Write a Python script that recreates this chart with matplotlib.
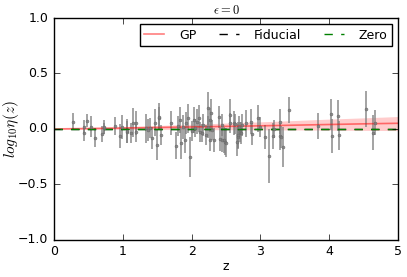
import numpy as np
import matplotlib
matplotlib.use("Agg")
import matplotlib.pyplot as plt

plt.style.use("classic")
plt.rcParams["mathtext.fontset"] = "cm"
plt.rcParams["font.family"] = ["DejaVu Sans"]

# data points (z, log10 eta, error)
z_obs = [0.28, 0.43, 0.43, 0.48, 0.53, 0.60, 0.69, 0.72, 0.73, 0.88,
         0.96, 0.98, 1.06, 1.06, 1.12, 1.14, 1.19, 1.19, 1.33, 1.37,
         1.39, 1.42, 1.47, 1.49, 1.52, 1.53, 1.55, 1.70, 1.77, 1.80,
         1.83, 1.84, 1.87, 1.90, 1.91, 1.94, 1.97, 2.00, 2.03, 2.05,
         2.07, 2.10, 2.12, 2.15, 2.17, 2.21, 2.23, 2.24, 2.26, 2.27,
         2.28, 2.30, 2.33, 2.40, 2.41, 2.44, 2.44, 2.47, 2.49, 2.50,
         2.55, 2.56, 2.61, 2.63, 2.66, 2.67, 2.68, 2.69, 2.70, 2.71,
         2.73, 2.79, 2.86, 2.88, 2.96, 2.99, 3.07, 3.13, 3.18, 3.19,
         3.28, 3.29, 3.30, 3.33, 3.41, 3.84, 4.02, 4.04, 4.13, 4.14,
         4.53, 4.64, 4.67]
eta_obs = [0.066, -0.039, 0.018, 0.075, 0.021, -0.078, -0.045, 0.006, 0.018, 0.027,
           -0.063, 0.020, -0.024, -0.018, -0.039, 0.057, 0.051, -0.024, 0.006, -0.010,
           0.012, -0.081, 0.057, -0.144, 0.096, 0.110, -0.057, 0.051, -0.150, 0.030,
           0.081, -0.129, 0.015, -0.099, 0.051, 0.096, -0.255, -0.020, 0.081, 0.010,
           0.066, 0.096, -0.030, -0.036, 0.036, -0.057, 0.186, 0.020, 0.081, -0.099,
           0.141, -0.010, -0.099, 0.105, -0.093, 0.036, -0.099, -0.099, -0.114, -0.123,
           0.126, 0.050, 0.051, 0.045, -0.114, -0.069, -0.054, 0.015, -0.030, -0.039,
           0.036, 0.050, 0.066, -0.048, 0.096, 0.021, -0.075, -0.243, -0.063, 0.000,
           0.066, -0.066, -0.069, -0.159, 0.171, 0.027, 0.132, -0.063, 0.117, -0.057,
           0.180, -0.033, 0.057]
err_obs = [0.075, 0.070, 0.063, 0.060, 0.095, 0.087, 0.070, 0.050, 0.060, 0.080,
           0.110, 0.110, 0.100, 0.110, 0.090, 0.130, 0.110, 0.090, 0.130, 0.100,
           0.090, 0.100, 0.120, 0.140, 0.100, 0.120, 0.090, 0.110, 0.120, 0.090,
           0.120, 0.140, 0.110, 0.120, 0.100, 0.130, 0.180, 0.090, 0.120, 0.080,
           0.110, 0.120, 0.090, 0.080, 0.100, 0.090, 0.150, 0.100, 0.110, 0.100,
           0.130, 0.090, 0.110, 0.100, 0.110, 0.100, 0.110, 0.120, 0.120, 0.130,
           0.140, 0.090, 0.110, 0.090, 0.130, 0.110, 0.120, 0.100, 0.090, 0.100,
           0.100, 0.120, 0.110, 0.100, 0.120, 0.090, 0.110, 0.240, 0.120, 0.080,
           0.110, 0.120, 0.100, 0.180, 0.120, 0.120, 0.140, 0.150, 0.140, 0.130,
           0.160, 0.160, 0.110]

# GP reconstruction
z_gp = [0.0, 0.5, 1.0, 1.5, 2.0, 2.5, 3.0, 3.5, 4.0, 4.5, 5.0]
gp_mean = [0.0, 0.004, 0.008, 0.013, 0.018, 0.023, 0.028, 0.034, 0.040, 0.046, 0.051]
gp_low = [-0.004, -0.004, -0.004, -0.005, -0.006, -0.007, -0.008, -0.009, -0.011, -0.013, -0.015]
gp_high = [0.004, 0.012, 0.021, 0.031, 0.042, 0.053, 0.064, 0.076, 0.089, 0.100, 0.112]

fig = plt.figure(figsize=(4.07, 2.77), dpi=100)
ax = fig.add_axes([0.133, 0.134, 0.845, 0.801])

ax.errorbar(z_obs, eta_obs, yerr=err_obs, fmt=".", color="gray", ecolor="gray",
            markersize=4, markeredgecolor="dimgray", elinewidth=1.2, alpha=0.85, capsize=0)
ax.fill_between(z_gp, gp_low, gp_high, color="red", alpha=0.2, linewidth=0)
ax.plot(z_gp, gp_mean, color="red", alpha=0.5, linewidth=1.2, label="GP")
ax.plot([0, 5], [0, 0], "k--", linewidth=1, label="Fiducial")
ax.plot([0, 5], [0, 0], "g--", linewidth=1, label="Zero")

ax.set_xlim(0, 5)
ax.set_ylim(-1, 1)
ax.set_yticks([-1.0, -0.5, 0.0, 0.5, 1.0])
ax.tick_params(labelsize=9)
ax.set_xlabel("z", fontsize=9, labelpad=1)
ax.set_ylabel(r"$log_{10}\eta(z)$", fontsize=11, labelpad=-2)
ax.set_title(r"$\epsilon=0$", fontsize=9, pad=3)
ax.legend(loc="upper right", ncol=3, fontsize=9, numpoints=1, handlelength=1.6,
          columnspacing=1.8, borderpad=0.35, handletextpad=1.2, borderaxespad=0.5)

fig.savefig("out.png", dpi=100)
